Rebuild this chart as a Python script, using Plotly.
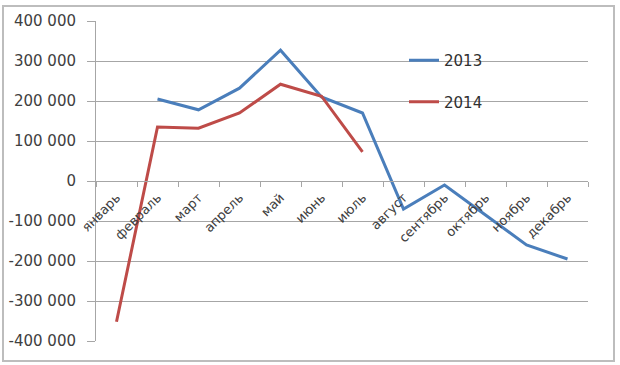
import plotly.graph_objects as go

months = ["январь", "февраль", "март", "апрель", "май", "июнь",
          "июль", "август", "сентябрь", "октябрь", "ноябрь", "декабрь"]
values_2013 = [None, 205000, 178000, 232000, 327000, 210000,
               170000, -70000, -10000, -85000, -160000, -195000]
values_2014 = [-352000, 135000, 132000, 170000, 242000, 212000, 73000,
               None, None, None, None, None]
y_tick_vals = [400000, 300000, 200000, 100000, 0, -100000, -200000, -300000, -400000]
y_tick_text = ["400 000", "300 000", "200 000", "100 000", "0",
               "-100 000", "-200 000", "-300 000", "-400 000"]

W, H = 620, 365
L, R, T, B = 96, 588, 21, 341

fig = go.Figure()
fig.add_trace(go.Scatter(x=months, y=values_2013, name="2013", mode="lines",
                         line=dict(color="#4a7ebb", width=3), legendgroup="a",
                         connectgaps=False))
fig.add_trace(go.Scatter(x=months, y=values_2014, name="2014", mode="lines",
                         line=dict(color="#be4b48", width=3), legendgroup="b",
                         connectgaps=False))

grid = "#a6a6a6"
fig.update_layout(
    width=W, height=H,
    margin=dict(l=L, r=W - R, t=T, b=H - B, pad=0),
    paper_bgcolor="white", plot_bgcolor="white",
    font=dict(family="DejaVu Sans", size=13, color="#404040"),
    showlegend=True,
    legend=dict(x=(404 - L) / (R - L), y=(B - 44) / (B - T), xanchor="left", yanchor="top",
                bgcolor="rgba(0,0,0,0)", font=dict(size=15, color="#303030"),
                traceorder="grouped", tracegroupgap=19, borderwidth=0),
    xaxis=dict(
        type="category", categoryorder="array", categoryarray=months,
        range=[-0.5, 11.5], anchor="free", position=0.5,
        showgrid=False, showline=True, linecolor=grid, linewidth=1,
        ticks="outside", tickson="boundaries", ticklen=5, tickcolor=grid,
        tickangle=-45, tickfont=dict(size=13, color="#404040"), automargin=False,
        ticklabelstandoff=3, zeroline=False,
    ),
    yaxis=dict(
        range=[-400000, 400000], tickvals=y_tick_vals, ticktext=y_tick_text,
        showgrid=True, gridcolor=grid, gridwidth=1,
        showline=True, linecolor=grid, linewidth=1,
        ticks="outside", ticklen=8, tickcolor=grid, ticklabelstandoff=8,
        tickfont=dict(size=15, color="#404040"), automargin=False,
        zeroline=False,
    ),
    shapes=[dict(type="rect", xref="paper", yref="paper",
                 x0=(3 - L) / (R - L), x1=(614 - L) / (R - L),
                 y0=(B - 361) / (B - T), y1=(B - 6) / (B - T),
                 line=dict(color="#bdbdbd", width=2), layer="above")],
)

fig.write_html("out.html", config={"displayModeBar": False},
               post_script="document.body.style.margin='0';")
